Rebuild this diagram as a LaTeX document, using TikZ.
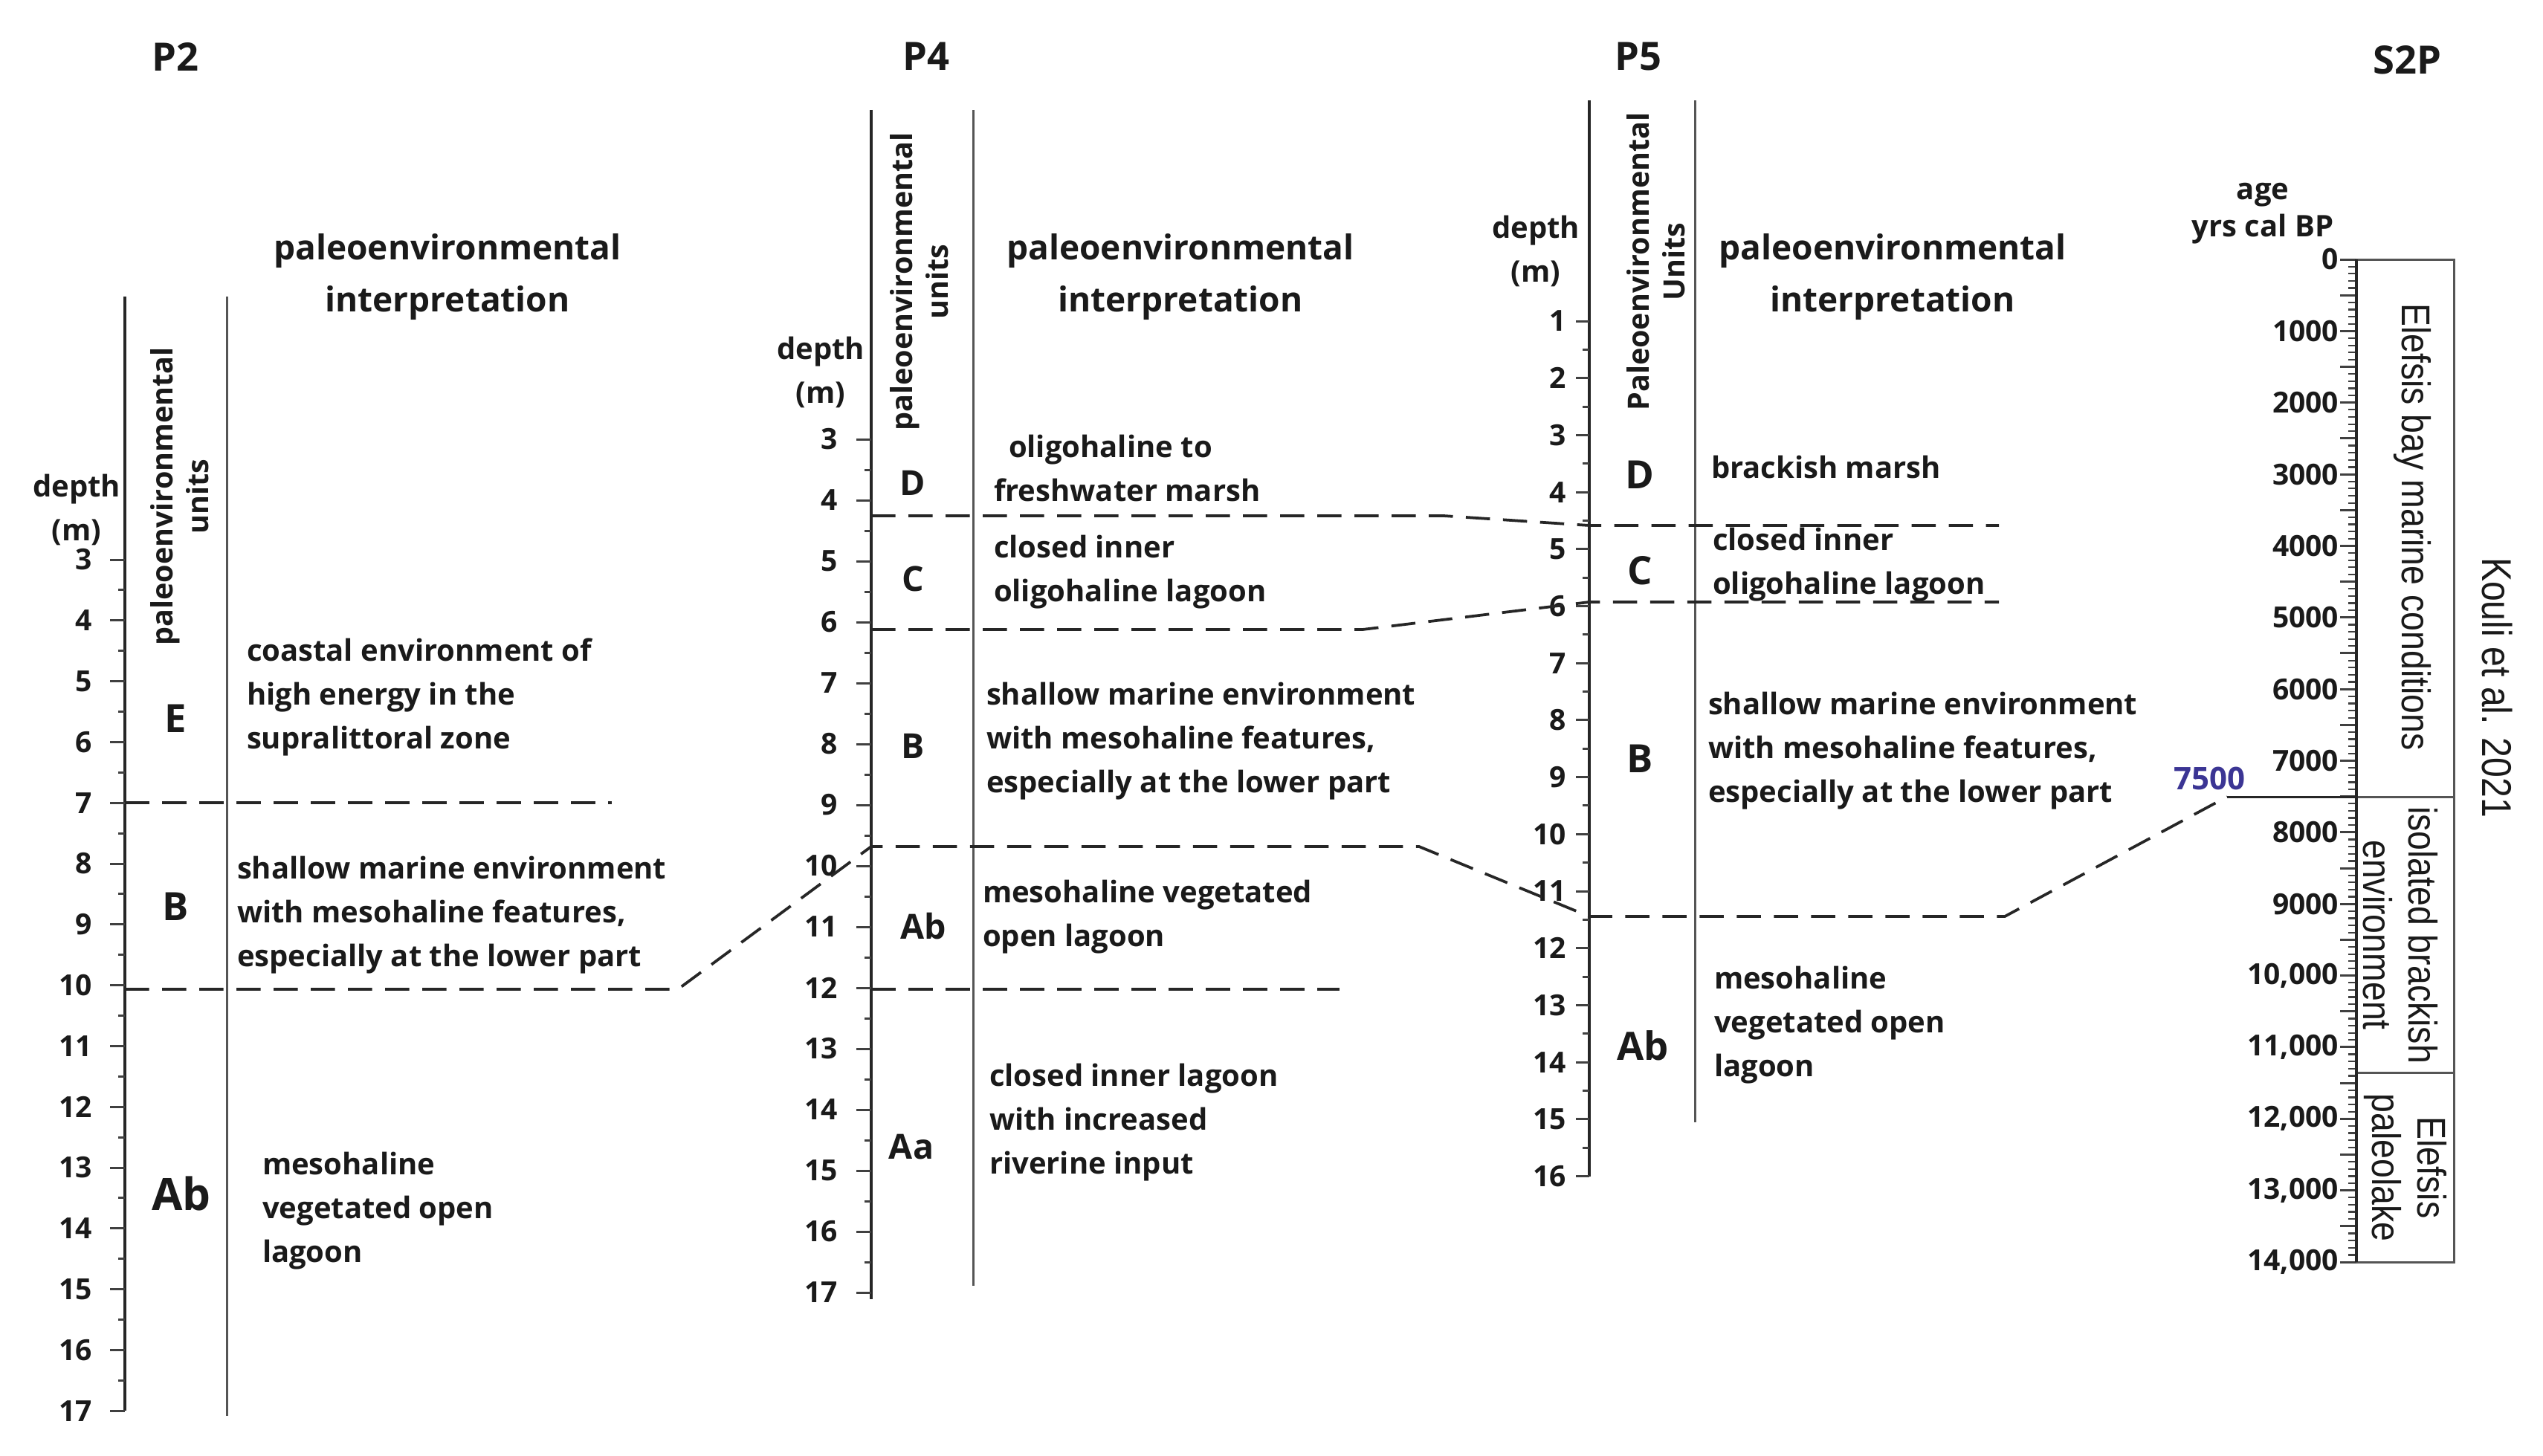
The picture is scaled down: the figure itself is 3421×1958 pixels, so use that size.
\documentclass[tikz,border=0pt]{standalone}
\usepackage{fontspec}
\setmainfont{Open Sans}
\newfontfamily\narrowfont[FakeStretch=0.86]{Liberation Sans}
\definecolor{ink}{HTML}{1A1A1A}
\definecolor{axisgray}{HTML}{555555}
\definecolor{ageblue}{HTML}{3B3594}
\begin{document}
\begin{tikzpicture}[x=0.2pt,y=-0.2pt,
  every node/.style={inner sep=0pt, outer sep=0pt, text=ink},
  title/.style={font=\fontsize{10.5}{12}\selectfont\bfseries},
  header/.style={font=\fontsize{9.2}{14}\selectfont\bfseries, align=center},
  body/.style={font=\fontsize{8}{11.8}\selectfont\bfseries, align=left, anchor=west},
  unitlbl/.style={font=\fontsize{10.5}{12}\selectfont\bfseries},
  unitsmall/.style={font=\fontsize{9.3}{11}\selectfont\bfseries},
  ticklbl/.style={font=\fontsize{7.8}{9}\selectfont\bfseries, anchor=east},
  depthlbl/.style={font=\fontsize{8}{11.8}\selectfont\bfseries, align=center},
  rotlbl/.style={font=\fontsize{7.9}{9.6}\selectfont\bfseries, align=center, rotate=90},
  narrowlbl/.style={font=\fontsize{10.8}{12.2}\selectfont\narrowfont, align=center, rotate=-90},
  axisline/.style={draw=black!85, line width=0.75pt},
  colline/.style={draw=axisgray, line width=0.6pt},
  tickline/.style={draw=black!75, line width=0.6pt},
  boundary/.style={draw=black!85, line width=0.75pt, dash pattern=on 6.5pt off 3.5pt},
]
\fill[white] (0,0) rectangle (3421,1958);
\useasboundingbox (0,0) rectangle (3421,1958);

% ---------------- titles
\node[title] (tP2) at (236,76) {P2};
\node[title] (tP4) at (1246,76) {P4};
\node[title] (tP5) at (2204,76) {P5};
\node[title] (tS2P) at (3238,81) {S2P};

% ---------------- headers
\node[header] (h2) at (602,373) {paleoenvironmental\\interpretation};
\node[header] (h4) at (1588,373) {paleoenvironmental\\interpretation};
\node[header] (h5) at (2546,373) {paleoenvironmental\\interpretation};

% ================= P2
\draw[axisline] (168,399) -- (168,1898);
\draw[colline] (305,399) -- (305,1905);
\foreach \d in {3,...,17} {
  \pgfmathsetmacro\yy{753+(\d-3)*81.8}
  \draw[tickline] (148,\yy) -- (168,\yy);
  \node[ticklbl] at (124,\yy) {\d};
}
\foreach \d in {3.5,4.5,...,16.5} {
  \pgfmathsetmacro\yy{753+(\d-3)*81.8}
  \draw[tickline] (159,\yy) -- (168,\yy);
}
\node[depthlbl] (dep2) at (103,686) {depth\\(m)};
\node[rotlbl] (pu2) at (242,668) {paleoenvironmental\\units};
\node[unitlbl] (u2E) at (236,967) {E};
\node[unitlbl] (u2B) at (236,1220) {B};
\node[unitlbl, font=\fontsize{12}{14}\selectfont\bfseries] (u2Ab) at (244,1606) {Ab};
\node[body] (t2E) at (332,938) {coastal environment of\\high energy in the\\supralittoral zone};
\node[body] (t2B) at (319,1231) {shallow marine environment\\with mesohaline features,\\especially at the lower part};
\node[body] (t2Ab) at (353,1629) {mesohaline\\vegetated open\\lagoon};

% ================= P4
\draw[axisline] (1172,148) -- (1172,1748);
\draw[colline] (1309,148) -- (1309,1730);
\foreach \d in {3,...,17} {
  \pgfmathsetmacro\yy{591+(\d-3)*82}
  \draw[tickline] (1152,\yy) -- (1172,\yy);
  \node[ticklbl] at (1127,\yy) {\d};
}
\foreach \d in {3.5,4.5,...,16.5} {
  \pgfmathsetmacro\yy{591+(\d-3)*82}
  \draw[tickline] (1163,\yy) -- (1172,\yy);
}
\node[depthlbl] (dep4) at (1104,501) {depth\\(m)};
\node[rotlbl] (pu4) at (1237,379) {paleoenvironmental\\units};
\node[unitsmall] (u4D) at (1228,650) {D};
\node[unitsmall] (u4C) at (1228,779) {C};
\node[unitsmall] (u4B) at (1228,1004) {B};
\node[unitsmall] (u4Ab) at (1242,1246) {Ab};
\node[unitsmall] (u4Aa) at (1226,1543) {Aa};
\node[body] (t4D) at (1337,630) {\hspace*{4pt}oligohaline to\\freshwater marsh};
\node[body] (t4C) at (1337,770) {closed inner\\oligohaline lagoon};
\node[body] (t4B) at (1327,997) {shallow marine environment\\with mesohaline features,\\especially at the lower part};
\node[body] (t4Ab) at (1322,1234) {mesohaline vegetated\\open lagoon};
\node[body] (t4Aa) at (1331,1510) {closed inner lagoon\\with increased\\riverine input};

% ================= P5
\draw[axisline] (2138,135) -- (2138,1583);
\draw[colline] (2280,135) -- (2280,1510);
\foreach \d in {1,...,16} {
  \pgfmathsetmacro\yy{432+(\d-1)*76.7}
  \draw[tickline] (2120,\yy) -- (2138,\yy);
  \node[ticklbl] at (2107,\yy) {\d};
}
\foreach \d in {1.5,2.5,...,15.5} {
  \pgfmathsetmacro\yy{432+(\d-1)*76.7}
  \draw[tickline] (2129,\yy) -- (2138,\yy);
}
\node[depthlbl] (dep5) at (2066,338) {depth\\(m)};
\node[rotlbl] (pu5) at (2228,352) {Paleoenvironmental\\Units};
\node[unitlbl] (u5D) at (2206,639) {D};
\node[unitlbl] (u5C) at (2206,768) {C};
\node[unitlbl] (u5B) at (2206,1021) {B};
\node[unitlbl] (u5Ab) at (2210,1407) {Ab};
\node[body] (t5D) at (2302,628) {brackish marsh};
\node[body] (t5C) at (2304,760) {closed inner\\oligohaline lagoon};
\node[body] (t5B) at (2298,1010) {shallow marine environment\\with mesohaline features,\\especially at the lower part};
\node[body] (t5Ab) at (2306,1379) {mesohaline\\vegetated open\\lagoon};

% ================= S2P
\draw[colline] (3170,349) rectangle (3301,1698);
\draw[colline] (3170,1072) -- (3301,1072);
\draw[colline] (3170,1443) -- (3301,1443);
\foreach \i in {0,...,140} {
  \pgfmathsetmacro\yy{349+\i*9.636}
  \draw[tickline, line width=0.45pt] (3159,\yy) -- (3170,\yy);
}
\foreach \i in {0,...,28} {
  \pgfmathsetmacro\yy{349+\i*48.18}
  \draw[tickline] (3148,\yy) -- (3170,\yy);
}
\draw[axisline] (3170,349) -- (3170,1698);
\foreach \a/\t in {0/0,1/1000,2/2000,3/3000,4/4000,5/5000,6/6000,7/7000,8/8000,9/9000,10/{10,000},11/{11,000},12/{12,000},13/{13,000},14/{14,000}} {
  \pgfmathsetmacro\yy{349+\a*96.36}
  \node[ticklbl] at (3146,\yy) {\t};
}
\node[depthlbl, font=\fontsize{8}{10}\selectfont\bfseries] (agelbl) at (3044,287) {age\\yrs cal BP};
\node[narrowlbl] (s1) at (3245,709) {Elefsis bay marine conditions};
\node[narrowlbl] (s2) at (3229,1258) {isolated brackish\\environment};
\node[narrowlbl] (s3) at (3236,1571) {Elefsis\\paleolake};
\node[narrowlbl, font=\fontsize{11.2}{13}\selectfont\narrowfont] (kouli) at (3359,925) {Kouli et al. 2021};
\node[font=\fontsize{8.4}{10}\selectfont\bfseries, text=ageblue] (a7500) at (2972,1047) {7500};

% ================= correlation lines
\coordinate (p2e7a) at (168,1080);
\coordinate (p2e7b) at (823,1080);
\draw[boundary] (p2e7a) -- (p2e7b);

\coordinate (c1) at (168,1331);
\coordinate (c2) at (912,1331);
\coordinate (c3) at (1172,1139);
\coordinate (c4) at (1909,1139);
\coordinate (c5) at (2138,1233);
\coordinate (c6) at (2697,1233);
\coordinate (c7) at (2996,1072);
\coordinate (c8) at (3170,1072);
\draw[boundary] (c1) -- (c2) -- (c3) -- (c4) -- (c5) -- (c6) -- (c7);
\draw[draw=black!85, line width=0.6pt] (c7) -- (c8);

\coordinate (d1) at (1172,694);
\coordinate (d2) at (1942,694);
\coordinate (d3) at (2138,707);
\coordinate (d4) at (2689,707);
\draw[boundary] (d1) -- (d2) -- (d3) -- (d4);

\coordinate (e1) at (1172,847);
\coordinate (e2) at (1833,847);
\coordinate (e3) at (2138,810);
\coordinate (e4) at (2689,810);
\draw[boundary] (e1) -- (e2) -- (e3) -- (e4);

\coordinate (f1) at (1172,1331);
\coordinate (f2) at (1802,1331);
\draw[boundary] (f1) -- (f2);
\end{tikzpicture}
\end{document}
